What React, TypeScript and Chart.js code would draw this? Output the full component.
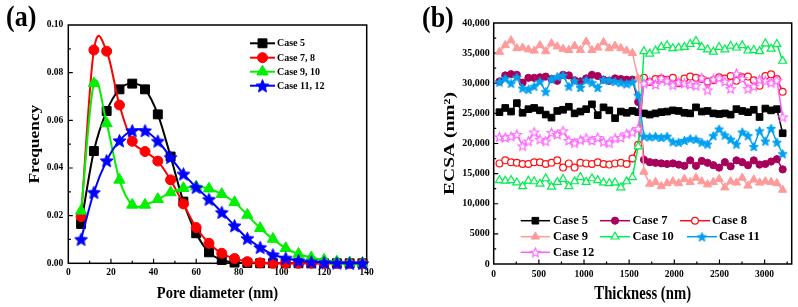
import React, { useEffect, useRef } from 'react';
import { Chart, registerables } from 'chart.js';
import { drawPoint } from 'chart.js/helpers';

Chart.register(...registerables);

const SERIF = "'Liberation Serif', 'Times New Roman', serif";

// ---------- Panel (a): pore size distribution ----------
const poreDiameters = [6, 12, 18, 24, 30, 36, 42, 48, 54, 60, 66, 72, 78, 84, 90, 96, 102, 108, 114, 120, 126, 132, 138];
const freqCase5 = [0.0165, 0.0471, 0.0639, 0.073, 0.0754, 0.073, 0.0625, 0.0448, 0.0259, 0.0126, 0.0046, 0.0014, 0.0003, 0.0001, 0, 0, 0, 0, 0, 0, 0, 0, 0];
const freqCase78 = [0.0196, 0.0895, 0.089, 0.0664, 0.0512, 0.0469, 0.0429, 0.035, 0.0249, 0.015, 0.0084, 0.0042, 0.002, 0.0007, 0.0002, 0, 0, 0, 0, 0, 0, 0, 0];
const freqCase910 = [0.022, 0.0755, 0.0587, 0.035, 0.0245, 0.0245, 0.0269, 0.0297, 0.0315, 0.0322, 0.0313, 0.029, 0.0256, 0.0203, 0.0147, 0.0102, 0.0063, 0.0039, 0.0024, 0.0014, 0.0007, 0.0003, 0.0001];
const freqCase1112 = [0.0101, 0.0298, 0.0431, 0.0515, 0.0557, 0.0557, 0.0513, 0.0445, 0.0375, 0.0319, 0.0269, 0.0214, 0.0158, 0.0105, 0.0067, 0.0036, 0.0022, 0.0011, 0.0006, 0.0003, 0.0001, 0, 0];
const seriesNamesA = ['Case 5', 'Case 7, 8', 'Case 9, 10', 'Case 11, 12'];
const poreAxisTicks = [0, 20, 40, 60, 80, 100, 120, 140];
const poreTickLabels = ['0', '20', '40', '60', '80', '100', '120', '140'];
const freqAxisTicks = [0, 0.02, 0.04, 0.06, 0.08, 0.1];
const freqTickLabels = ['0.00', '0.02', '0.04', '0.06', '0.08', '0.10'];

// ---------- Panel (b): ECSA through the catalyst layer ----------
const thicknessNm = [64, 128, 192, 256, 320, 384, 448, 512, 576, 640, 704, 768, 832, 896, 960, 1024, 1088, 1152, 1216, 1280, 1344, 1408, 1472, 1536, 1600, 1664, 1728, 1792, 1856, 1920, 1984, 2048, 2112, 2176, 2240, 2304, 2368, 2432, 2496, 2560, 2624, 2688, 2752, 2816, 2880, 2944, 3008, 3072, 3136, 3200];
const ecsaCase5 = [25200, 25900, 25300, 26700, 25100, 25700, 25900, 25500, 24800, 24300, 25400, 25600, 26100, 25000, 25300, 25700, 26500, 24700, 26000, 25500, 24200, 25300, 25100, 25400, 25200, 25000, 24800, 25000, 25200, 25300, 25500, 25400, 25100, 25000, 26000, 25300, 25400, 25000, 24900, 25000, 24800, 25700, 25400, 25200, 25600, 24400, 25800, 25500, 25700, 21700];
const ecsaCase7 = [30300, 31300, 31500, 31400, 30100, 30900, 30900, 31000, 31100, 30700, 30400, 31400, 31300, 30500, 30300, 30800, 31400, 31200, 30600, 30400, 30800, 30700, 30600, 30600, 26900, 17300, 16900, 16800, 16700, 16600, 16700, 16500, 16300, 17200, 16300, 17100, 16800, 16400, 16000, 16900, 16200, 17200, 16900, 16400, 17200, 16500, 16600, 17000, 17400, 15700];
const ecsaCase8 = [16700, 17200, 16900, 16800, 16600, 16600, 16900, 16900, 16600, 16800, 17200, 16000, 16700, 16000, 16800, 16700, 16600, 16900, 16600, 16500, 16700, 16800, 16600, 17500, 19800, 30900, 30200, 30700, 30800, 30600, 30900, 30000, 30800, 31100, 30900, 30700, 30300, 30500, 31000, 30800, 31200, 30400, 31000, 31100, 30500, 29600, 31200, 31500, 30700, 28600];
const ecsaCase9 = [35200, 36300, 37100, 35800, 35900, 35600, 35400, 36300, 35300, 36600, 36100, 35700, 35500, 36200, 35500, 36900, 35500, 35900, 36800, 35800, 36200, 35800, 35400, 35000, 30800, 15300, 13300, 13600, 12900, 13400, 13700, 13400, 14100, 13600, 14300, 13700, 13200, 13600, 14100, 12700, 13700, 13500, 14300, 13000, 14000, 13500, 13700, 13600, 13400, 12300];
const ecsaCase10 = [13900, 13800, 13900, 13500, 12900, 13800, 13700, 13300, 14200, 12800, 13600, 14100, 12900, 13700, 14400, 13600, 14200, 13900, 13500, 13400, 13500, 12700, 13700, 14400, 19500, 35300, 34900, 35400, 36000, 36300, 35800, 35900, 36000, 36500, 37000, 36000, 35600, 35200, 36000, 35600, 36200, 35900, 36300, 35400, 35500, 35300, 36600, 35700, 36500, 33700];
const ecsaCase11 = [30200, 30800, 30000, 31000, 29200, 29000, 29500, 30300, 28600, 30700, 31100, 31300, 29500, 30400, 29300, 30500, 30100, 29300, 30600, 30500, 30300, 30100, 29900, 30200, 28000, 21200, 21100, 21200, 21000, 21200, 20300, 20200, 20500, 20800, 20700, 20200, 19900, 21300, 22400, 21400, 20700, 19900, 21900, 21300, 19500, 22100, 20400, 22500, 20200, 18300];
const ecsaCase12 = [21100, 21000, 21200, 21500, 19600, 20400, 21900, 20700, 20400, 21800, 21500, 22100, 20500, 20100, 20600, 20900, 20500, 21000, 20300, 20100, 20900, 21000, 21600, 21900, 22500, 30000, 30300, 29800, 30800, 30400, 29700, 30200, 30000, 29800, 29600, 30900, 28900, 30700, 30900, 30300, 29100, 31600, 30800, 29100, 29500, 30600, 30400, 30100, 30500, 24400];
const seriesNamesB = ['Case 5', 'Case 7', 'Case 8', 'Case 9', 'Case 10', 'Case 11', 'Case 12'];
const thicknessAxisTicks = [0, 500, 1000, 1500, 2000, 2500, 3000];
const thicknessTickLabels = ['0', '500', '1000', '1500', '2000', '2500', '3000'];
const ecsaAxisTicks = [0, 5000, 10000, 15000, 20000, 25000, 30000, 35000, 40000];
const ecsaTickLabels = ['0', '5000', '10,000', '15,000', '20,000', '25,000', '30,000', '35,000', '40,000'];

type Marker = { kind: string; color: string; fill: string; radius: number; border: number };

// filled / hollow five-pointed star rendered once and used as a point image
function starCanvas(outer: number, fill: string, stroke: string, lw: number) {
  const size = Math.ceil(outer * 2 + lw + 2);
  const c = document.createElement('canvas');
  c.width = size;
  c.height = size;
  const g = c.getContext('2d')!;
  const cx = size / 2;
  const cy = size / 2 + outer * 0.1;
  const inner = outer * 0.45;
  g.beginPath();
  for (let i = 0; i < 10; i++) {
    const r = i % 2 === 0 ? outer : inner;
    const ang = -Math.PI / 2 + (i * Math.PI) / 5;
    const px = cx + r * Math.cos(ang);
    const py = cy + r * Math.sin(ang);
    if (i === 0) g.moveTo(px, py);
    else g.lineTo(px, py);
  }
  g.closePath();
  g.fillStyle = fill;
  g.fill();
  g.strokeStyle = stroke;
  g.lineWidth = lw;
  g.stroke();
  return c;
}

function pointStyleOf(m: Marker): any {
  return m.kind === 'star' ? starCanvas(m.radius, m.fill, m.color, m.border) : m.kind;
}

function drawMarker(ctx: CanvasRenderingContext2D, m: Marker, style: any, x: number, y: number) {
  if (style instanceof HTMLCanvasElement) {
    ctx.drawImage(style, x - style.width / 2, y - style.height / 2);
    return;
  }
  ctx.fillStyle = m.fill;
  ctx.strokeStyle = m.color;
  ctx.lineWidth = m.border;
  drawPoint(ctx, { pointStyle: style, radius: m.radius, borderWidth: m.border, rotation: 0 } as any, x, y);
}

// Catmull-Rom style spline through each dataset's own (scale-mapped) points,
// stroked right before Chart.js paints that dataset's markers
const splinePlugin = {
  id: 'splineConnect',
  beforeDatasetDraw(chart: any, args: any) {
    const ds = chart.data.datasets[args.index];
    if (!ds.splineConnect) return;
    const pts = args.meta.data.map((p: any) => ({ x: p.x, y: p.y }));
    const n = pts.length;
    if (n < 2) return;
    const slope: number[] = [];
    for (let i = 0; i < n; i++) {
      const a = pts[Math.max(0, i - 1)];
      const b = pts[Math.min(n - 1, i + 1)];
      slope.push((b.y - a.y) / (b.x - a.x));
    }
    const ctx: CanvasRenderingContext2D = chart.ctx;
    ctx.save();
    ctx.strokeStyle = ds.borderColor;
    ctx.lineWidth = ds.borderWidth;
    ctx.lineJoin = 'round';
    ctx.beginPath();
    ctx.moveTo(pts[0].x, pts[0].y);
    for (let i = 0; i < n - 1; i++) {
      const p = pts[i];
      const q = pts[i + 1];
      const h = (q.x - p.x) / 3;
      ctx.bezierCurveTo(p.x + h, p.y + slope[i] * h, q.x - h, q.y - slope[i + 1] * h, q.x, q.y);
    }
    ctx.stroke();
    ctx.restore();
  },
};

// frame around the plot and inward ticks (major + minor) on bottom and left
function frameTicksPlugin(xStep: number, yStep: number) {
  return {
    id: 'frameTicks',
    beforeDatasetsDraw(chart: any) {
      const { ctx, chartArea: a, scales } = chart;
      const xs = scales.x;
      const ys = scales.y;
      ctx.save();
      ctx.strokeStyle = '#000';
      ctx.lineWidth = 1.5;
      ctx.strokeRect(a.left, a.top, a.right - a.left, a.bottom - a.top);
      ctx.lineWidth = 1.2;
      ctx.beginPath();
      const nx = Math.floor((xs.max - xs.min) / (xStep / 2) + 1e-6);
      for (let i = 1; i <= nx; i++) {
        const v = xs.min + (i * xStep) / 2;
        if (v >= xs.max) break;
        const px = xs.getPixelForValue(v);
        const len = i % 2 === 0 ? 4.5 : 2.5;
        ctx.moveTo(px, a.bottom);
        ctx.lineTo(px, a.bottom - len);
      }
      const ny = Math.floor((ys.max - ys.min) / (yStep / 2) + 1e-6);
      for (let i = 1; i < ny; i++) {
        const v = ys.min + (i * yStep) / 2;
        const py = ys.getPixelForValue(v);
        const len = i % 2 === 0 ? 4.5 : 2.5;
        ctx.moveTo(a.left, py);
        ctx.lineTo(a.left + len, py);
      }
      ctx.stroke();
      ctx.restore();
    },
  };
}

type TitleSpec = { text: string; size: number; stretch: number; axis: 'x' | 'y' | 'none'; x: number; y: number; align?: CanvasTextAlign };

// axis titles and panel label, set slightly tall like the typeset figure
function titlesPlugin(items: TitleSpec[]) {
  return {
    id: 'titles',
    afterDraw(chart: any) {
      const { ctx, chartArea: a } = chart;
      ctx.save();
      ctx.fillStyle = '#000';
      ctx.textBaseline = 'middle';
      for (const t of items) {
        ctx.font = `bold ${t.size}px ${SERIF}`;
        ctx.save();
        if (t.axis === 'x') {
          ctx.translate((a.left + a.right) / 2, t.y);
          ctx.scale(1, t.stretch);
          ctx.textAlign = 'center';
        } else if (t.axis === 'y') {
          ctx.translate(t.x, (a.top + a.bottom) / 2);
          ctx.rotate(-Math.PI / 2);
          ctx.scale(t.stretch, 1);
          ctx.textAlign = 'center';
        } else {
          ctx.translate(t.x, t.y);
          ctx.scale(1, t.stretch);
          ctx.textAlign = t.align || 'left';
        }
        ctx.fillText(t.text, 0, 0);
        ctx.restore();
      }
      ctx.restore();
    },
  };
}

type LegendItem = { name: string; marker: Marker; style: any; x0: number; x1: number; tx: number; y: number };

function legendPlugin(items: LegendItem[], fontSize: number, lineWidth: number) {
  return {
    id: 'lineLegend',
    afterDraw(chart: any) {
      const ctx: CanvasRenderingContext2D = chart.ctx;
      ctx.save();
      for (const it of items) {
        ctx.strokeStyle = it.marker.color;
        ctx.lineWidth = lineWidth;
        ctx.beginPath();
        ctx.moveTo(it.x0, it.y);
        ctx.lineTo(it.x1, it.y);
        ctx.stroke();
        drawMarker(ctx, it.marker, it.style, (it.x0 + it.x1) / 2, it.y);
        ctx.fillStyle = '#000';
        ctx.font = `bold ${fontSize}px ${SERIF}`;
        ctx.textAlign = 'left';
        ctx.textBaseline = 'middle';
        ctx.fillText(it.name, it.tx, it.y + 0.5);
      }
      ctx.restore();
    },
  };
}

function tickFont(size: number) {
  return { family: SERIF, size, weight: 'bold' as const };
}

function buildChartA(canvas: HTMLCanvasElement) {
  const values = [freqCase5, freqCase78, freqCase910, freqCase1112];
  const markers: Marker[] = [
    { kind: 'rect', color: '#000000', fill: '#000000', radius: 6.3, border: 1 },
    { kind: 'circle', color: '#ff0000', fill: '#ff0000', radius: 5, border: 1 },
    { kind: 'triangle', color: '#00f000', fill: '#00f000', radius: 6.5, border: 1 },
    { kind: 'star', color: '#0000ff', fill: '#0000ff', radius: 6.8, border: 1 },
  ];
  const styles = markers.map(pointStyleOf);
  const datasets = values.map((ys, i) => ({
    label: seriesNamesA[i],
    data: poreDiameters.map((x, j) => ({ x, y: ys[j] })),
    borderColor: markers[i].color,
    backgroundColor: markers[i].fill,
    borderWidth: 2,
    showLine: false,
    splineConnect: true,
    pointStyle: styles[i],
    pointRadius: markers[i].radius,
    pointBackgroundColor: markers[i].fill,
    pointBorderColor: markers[i].color,
    pointBorderWidth: markers[i].border,
    clip: false as any,
    order: 10 - i,
    fill: false,
  }));
  const legendRows = [43.3, 57.7, 71.7, 85.7];
  const legendItems: LegendItem[] = seriesNamesA.map((name, i) => ({
    name, marker: markers[i], style: styles[i], x0: 250, x1: 275, tx: 277, y: legendRows[i],
  }));
  return new Chart(canvas, {
    type: 'line',
    data: { datasets: datasets as any },
    options: {
      responsive: false,
      animation: false,
      events: [],
      layout: { padding: { left: 0, top: 25, right: 33.3, bottom: 0 } },
      plugins: { legend: { display: false }, tooltip: { enabled: false } },
      scales: {
        x: {
          type: 'linear', min: 0, max: 140,
          afterFit: (s: any) => { s.height = 43.7; },
          afterBuildTicks: (s: any) => { s.ticks = poreAxisTicks.map((v) => ({ value: v })); },
          grid: { display: false, drawTicks: false },
          border: { display: false },
          ticks: { padding: 4, color: '#000', font: tickFont(9.5), autoSkip: false, maxRotation: 0, callback: (_v: any, i: number) => poreTickLabels[i] },
        },
        y: {
          type: 'linear', min: 0, max: 0.1,
          afterFit: (s: any) => { s.width = 68.3; },
          afterBuildTicks: (s: any) => { s.ticks = freqAxisTicks.map((v) => ({ value: v })); },
          grid: { display: false, drawTicks: false },
          border: { display: false },
          ticks: { padding: 5, color: '#000', font: tickFont(9.5), autoSkip: false, callback: (_v: any, i: number) => freqTickLabels[i] },
        },
      },
    },
    plugins: [
      frameTicksPlugin(20, 0.02),
      splinePlugin,
      titlesPlugin([
        { text: 'Pore diameter (nm)', size: 14.5, stretch: 1.22, axis: 'x', x: 0, y: 293 },
        { text: 'Frequency', size: 14.5, stretch: 1.2, axis: 'y', x: 35, y: 0 },
        { text: '(a)', size: 26, stretch: 1.12, axis: 'none', x: 6, y: 18.5 },
      ]),
      legendPlugin(legendItems, 10, 2),
    ],
  });
}

function buildChartB(canvas: HTMLCanvasElement) {
  const values = [ecsaCase5, ecsaCase7, ecsaCase8, ecsaCase9, ecsaCase10, ecsaCase11, ecsaCase12];
  const markers: Marker[] = [
    { kind: 'rect', color: '#000000', fill: '#000000', radius: 4.7, border: 1 },
    { kind: 'circle', color: '#a8005a', fill: '#a8005a', radius: 3.6, border: 1 },
    { kind: 'circle', color: '#ff1010', fill: '#ffffff', radius: 3.4, border: 1.2 },
    { kind: 'triangle', color: '#ff9a9a', fill: '#ff9a9a', radius: 4.8, border: 1 },
    { kind: 'triangle', color: '#00ee50', fill: '#ffffff', radius: 4.6, border: 1.2 },
    { kind: 'star', color: '#00a0f0', fill: '#00a0f0', radius: 4.8, border: 1 },
    { kind: 'star', color: '#ff5cff', fill: '#ffffff', radius: 4.8, border: 1.1 },
  ];
  const styles = markers.map(pointStyleOf);
  const datasets = values.map((ys, i) => ({
    label: seriesNamesB[i],
    data: thicknessNm.map((x, j) => ({ x, y: ys[j] })),
    borderColor: markers[i].color,
    backgroundColor: markers[i].fill,
    borderWidth: 1.5,
    tension: 0,
    pointStyle: styles[i],
    pointRadius: markers[i].radius,
    pointBackgroundColor: markers[i].fill,
    pointBorderColor: markers[i].color,
    pointBorderWidth: markers[i].border,
    clip: false as any,
    order: 10 - i,
    fill: false,
  }));
  const cols = [
    { x0: 120.7, x1: 150, tx: 153 },
    { x0: 200, x1: 230, tx: 232.5 },
    { x0: 280, x1: 310, tx: 312 },
  ];
  const rows = [220.7, 236.7, 252.3];
  const legendItems: LegendItem[] = seriesNamesB.map((name, i) => {
    const r = Math.floor(i / 3);
    let c = { ...cols[i % 3] };
    if (i === 5) c = { x0: 287, x1: 317, tx: 319 };
    return { name, marker: markers[i], style: styles[i], x0: c.x0, x1: c.x1, tx: c.tx, y: rows[r] };
  });
  return new Chart(canvas, {
    type: 'line',
    data: { datasets: datasets as any },
    options: {
      responsive: false,
      animation: false,
      events: [],
      layout: { padding: { left: 0, top: 23, right: 6.3, bottom: 0 } },
      plugins: { legend: { display: false }, tooltip: { enabled: false } },
      scales: {
        x: {
          type: 'linear', min: 0, max: 3300,
          afterFit: (s: any) => { s.height = 43; },
          afterBuildTicks: (s: any) => { s.ticks = thicknessAxisTicks.map((v) => ({ value: v })); },
          grid: { display: false, drawTicks: false },
          border: { display: false },
          ticks: { padding: 5, color: '#000', font: tickFont(9.5), autoSkip: false, maxRotation: 0, callback: (_v: any, i: number) => thicknessTickLabels[i] },
        },
        y: {
          type: 'linear', min: 0, max: 40000,
          afterFit: (s: any) => { s.width = 93.7; },
          afterBuildTicks: (s: any) => { s.ticks = ecsaAxisTicks.map((v) => ({ value: v })); },
          grid: { display: false, drawTicks: false },
          border: { display: false },
          ticks: { padding: 4, color: '#000', font: tickFont(10), autoSkip: false, callback: (_v: any, i: number) => ecsaTickLabels[i] },
        },
      },
    },
    plugins: [
      frameTicksPlugin(500, 5000),
      titlesPlugin([
        { text: 'Thickness (nm)', size: 14.7, stretch: 1.22, axis: 'x', x: 0, y: 294 },
        { text: 'ECSA (nm²)', size: 15, stretch: 1.3, axis: 'y', x: 50, y: 0 },
        { text: '(b)', size: 26, stretch: 1.12, axis: 'none', x: 22, y: 19.5 },
      ]),
      legendPlugin(legendItems, 12.5, 1.5),
    ],
  });
}

export default function App() {
  const refA = useRef<HTMLCanvasElement>(null);
  const refB = useRef<HTMLCanvasElement>(null);

  useEffect(() => {
    if (!refA.current || !refB.current) return;
    const a = buildChartA(refA.current);
    const b = buildChartB(refB.current);
    return () => {
      a.destroy();
      b.destroy();
    };
  }, []);

  return (
    <div style={{ position: 'absolute', left: 0, top: 0, width: 798, height: 307, background: '#ffffff', overflow: 'hidden' }}>
      <canvas ref={refA} width={400} height={307} style={{ position: 'absolute', left: 0, top: 0 }} />
      <canvas ref={refB} width={398} height={307} style={{ position: 'absolute', left: 400, top: 0 }} />
    </div>
  );
}
